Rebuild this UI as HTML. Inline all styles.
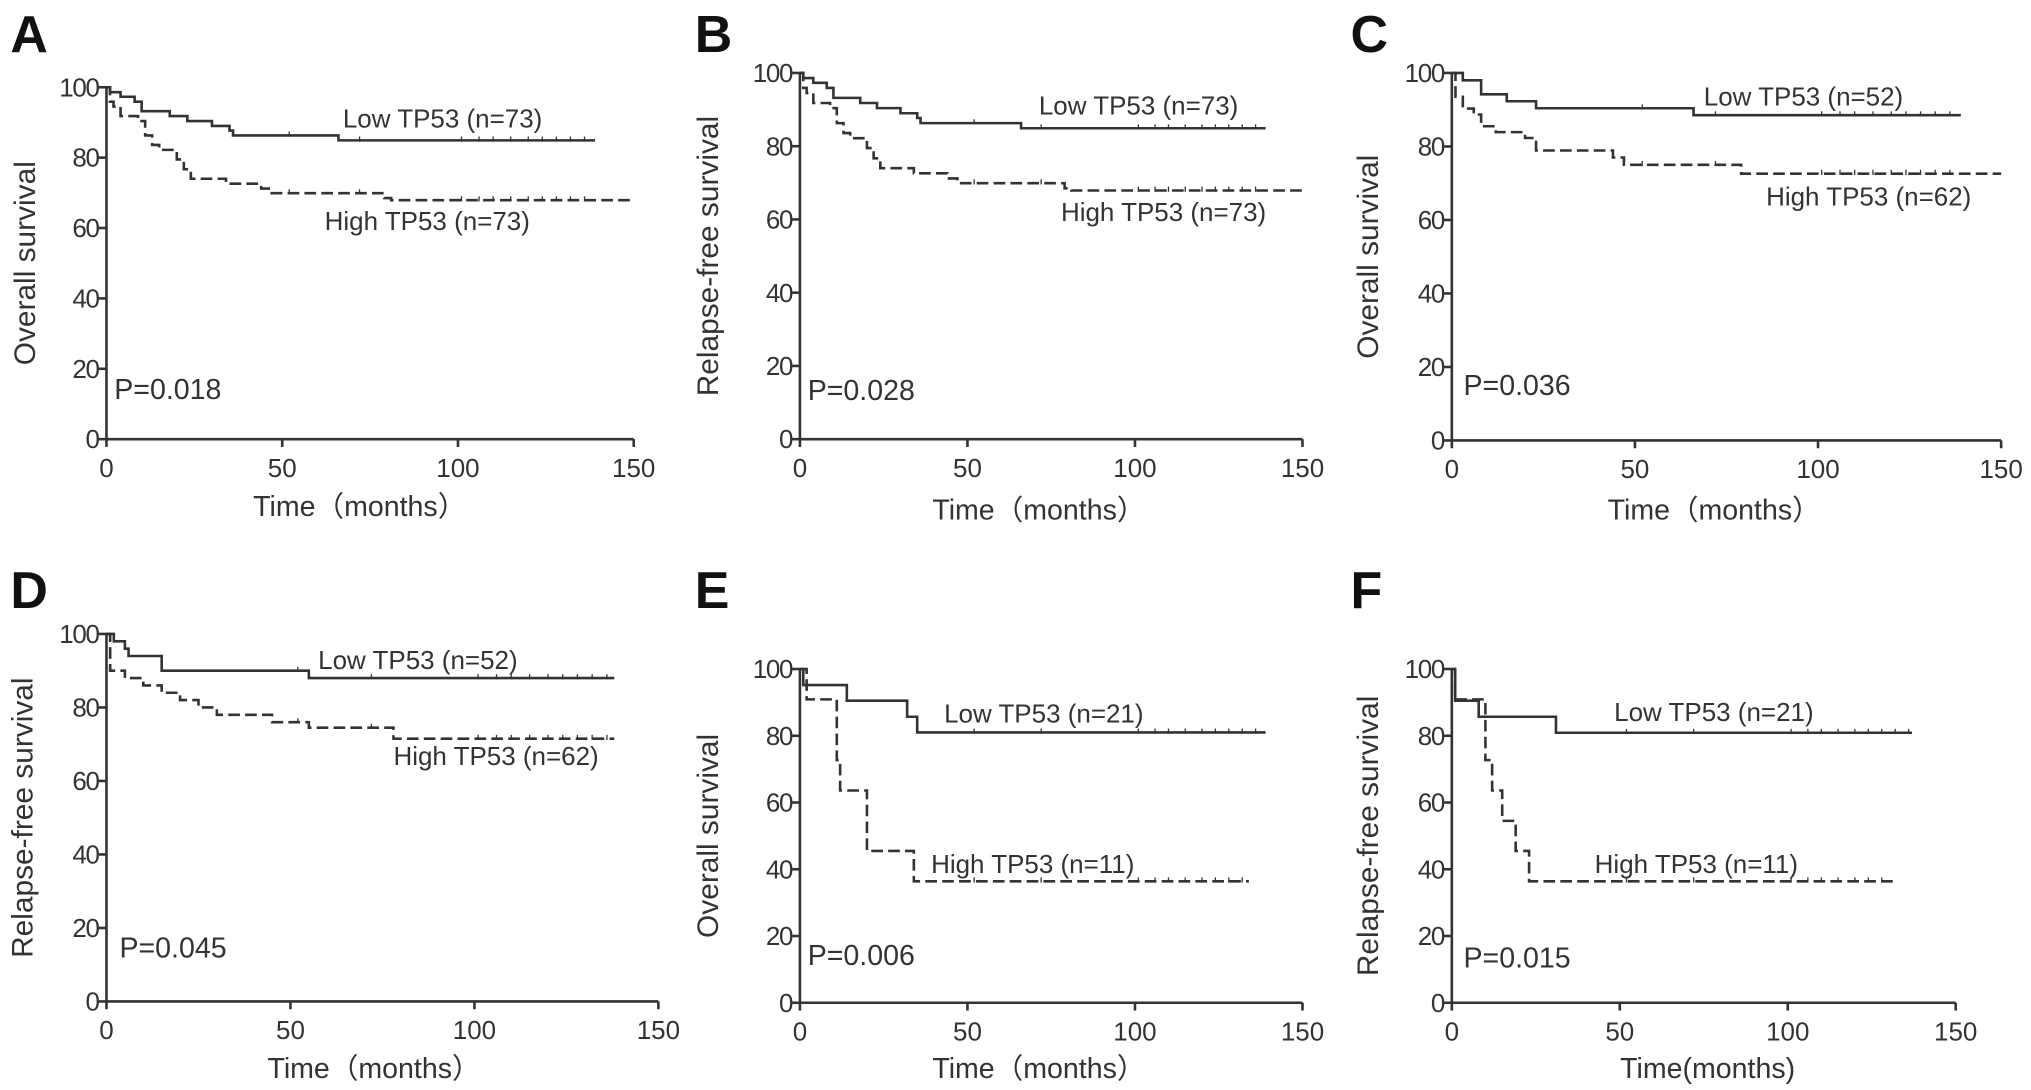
<!DOCTYPE html>
<html><head><meta charset="utf-8"><style>
html,body{margin:0;padding:0;background:#fff;}
svg{display:block;}
text{font-family:"Liberation Sans","Noto Sans CJK SC",sans-serif;fill:#333;}
</style></head><body>
<svg id="fig" width="2031" height="1090" viewBox="0 0 1564 839" xmlns="http://www.w3.org/2000/svg"></svg>
<script>
// ---- data (time in months, survival %) ----
const aLow=[[0,100],[1,98.6],[4,97.3],[8,95.9],[10,93.2],[18,91.8],[23,90.4],[30,89.0],[35,87.7],[36,86.3],[66,84.9]];
const aHigh=[[0,100],[1,95.9],[2,94.5],[4,91.8],[9,90.4],[11,86.3],[13,83.6],[15,82.2],[20,79.5],[22,76.7],[24,74.0],[34,72.6],[44,71.2],[47,69.9],[79,68.5],[81,67.9]];
const cLow=[[0,100],[3,98],[8,94.2],[15,92.3],[23,90.4],[66,88.5]];
const cHigh=[[0,100],[1,93.5],[3,90.3],[6,88.7],[8,85.5],[12,83.9],[20,82.3],[23,78.9],[44,77],[47,75],[79,72.6]];
const dLow=[[0,100],[2,98],[5,96],[6,94],[15,90],[55,88]];
const dHigh=[[0,100],[1,90],[5,88],[10,86],[15,84],[20,82],[25,80],[30,78],[45,76],[55,74.5],[78,71.5]];
const eLow=[[0,100],[1,95.2],[14,90.5],[32,85.7],[35,81]];
const eHigh=[[0,100],[2,90.9],[11,72.7],[12,63.6],[20,45.5],[34,36.4]];
const fLow=[[0,100],[1,90.5],[8,85.7],[31,80.9]];
const fHigh=[[0,100],[1,90.9],[10,72.7],[12,63.6],[15,54.5],[19,45.5],[23,36.4]];
const censorTimes=[52,72,101,106,110,115,120,124,128,132,136];
const xTicks=[0,50,100,150];
const yTicks=[0,20,40,60,80,100];

const panels=[
 {id:'a',L:'A',lx:8,ly:40,ox:82,oy:338,x150:488,y100:67,yt:'Overall survival',ytx:27,xt:'Time（months）',xtx:277,xty:397,
  low:aLow,lowEnd:139,high:aHigh,highEnd:150,lowLab:'Low TP53 (n=73)',lowXY:[264,98],highLab:'High TP53 (n=73)',highXY:[250,177],p:'P=0.018',pXY:[88,307]},
 {id:'b',L:'B',lx:535,ly:40,ox:616,oy:338,x150:1003,y100:56,yt:'Relapse-free survival',ytx:553,xt:'Time（months）',xtx:800,xty:400,
  low:aLow,lowEnd:139,high:aHigh,highEnd:150,lowLab:'Low TP53  (n=73)',lowXY:[800,88],highLab:'High TP53  (n=73)',highXY:[817,170],p:'P=0.028',pXY:[622,308]},
 {id:'c',L:'C',lx:1040,ly:40,ox:1118,oy:339,x150:1541,y100:56,yt:'Overall survival',ytx:1061,xt:'Time（months）',xtx:1320,xty:400,
  low:cLow,lowEnd:139,high:cHigh,highEnd:150,lowLab:'Low TP53  (n=52)',lowXY:[1312,81],highLab:'High TP53  (n=62)',highXY:[1360,158],p:'P=0.036',pXY:[1127,304]},
 {id:'d',L:'D',lx:8,ly:468,ox:82,oy:771,x150:507,y100:488,yt:'Relapse-free survival',ytx:25,xt:'Time（months）',xtx:288,xty:830,
  low:dLow,lowEnd:138,high:dHigh,highEnd:138,lowLab:'Low TP53  (n=52)',lowXY:[245,515],highLab:'High TP53  (n=62)',highXY:[303,589],p:'P=0.045',pXY:[92,737]},
 {id:'e',L:'E',lx:535,ly:468,ox:616,oy:772,x150:1003,y100:515,yt:'Overall survival',ytx:553,xt:'Time（months）',xtx:800,xty:830,
  low:eLow,lowEnd:139,high:eHigh,highEnd:134,lowLab:'Low TP53 (n=21)',lowXY:[727,556],highLab:'High TP53 (n=11)',highXY:[717,672],p:'P=0.006',pXY:[622,743]},
 {id:'f',L:'F',lx:1040,ly:468,ox:1118,oy:772,x150:1506,y100:515,yt:'Relapse-free survival',ytx:1061,xt:'Time(months)',xtx:1315,xty:830,
  low:fLow,lowEnd:137,high:fHigh,highEnd:132,lowLab:'Low TP53 (n=21)',lowXY:[1243,555],highLab:'High TP53 (n=11)',highXY:[1228,672],p:'P=0.015',pXY:[1127,745]}
];
const NS='http://www.w3.org/2000/svg';
const svg=document.getElementById('fig');
function mk(tag,attrs,parent){const e=document.createElementNS(NS,tag);for(const k in attrs)e.setAttribute(k,attrs[k]);parent.appendChild(e);return e;}
function txt(parent,x,y,s,size,anchor,extra){const t=mk('text',Object.assign({x:x,y:y,'font-size':size,'text-anchor':anchor||'start'},extra||{}),parent);t.textContent=s;return t;}
function stepPath(pts,end,X,Y){let d='M'+X(pts[0][0])+','+Y(pts[0][1]);for(let i=1;i<pts.length;i++){d+=' H'+X(pts[i][0])+' V'+Y(pts[i][1]);}d+=' H'+X(end);return d;}
function lastVal(pts,t){let v=pts[0][1];for(const p of pts){if(p[0]<=t)v=p[1];}return v;}
panels.forEach(p=>{
  const g=mk('g',{},svg);
  
  
  const X=t=>p.ox+(p.x150-p.ox)*t/150;
  const Y=v=>p.oy-(p.oy-p.y100)*v/100;
  const letter=txt(g,p.lx,p.ly,p.L,40,'start',{'font-weight':'bold',style:'fill:#111'});
  
  
  const ax=mk('path',{d:'M'+X(0)+','+Y(100)+' V'+p.oy+' H'+X(150),stroke:'#333','stroke-width':2,fill:'none'},g);
  
  
  xTicks.forEach(t=>{mk('line',{x1:X(t),x2:X(t),y1:p.oy,y2:p.oy+6,stroke:'#333','stroke-width':2},g);
    const l=txt(g,X(t),p.oy+29,String(t),20,'middle');
    
    });
  yTicks.forEach(v=>{mk('line',{x1:X(0)-6,x2:X(0),y1:Y(v),y2:Y(v),stroke:'#333','stroke-width':2},g);
    const l=txt(g,X(0)-6,Y(v)+7,String(v),20,'end',{'letter-spacing':'-1'});
    
    });
  const cy=(p.oy+p.y100)/2;
  const yt=txt(g,p.ytx,cy,p.yt,23,'middle',{transform:'rotate(-90 '+p.ytx+' '+cy+')'});
  
  
  const xt=txt(g,p.xtx,p.xty,p.xt,22,'middle');
  
  
  const lo=mk('path',{d:stepPath(p.low,p.lowEnd,X,Y),stroke:'#333','stroke-width':2,fill:'none'},g);
  
  
  const hi=mk('path',{d:stepPath(p.high,p.highEnd,X,Y),stroke:'#333','stroke-width':2,fill:'none','stroke-dasharray':'9,4'},g);
  
  
  censorTimes.forEach(t=>{
    if(t<p.lowEnd){const c=mk('line',{x1:X(t),x2:X(t),y1:Y(lastVal(p.low,t))-3,y2:Y(lastVal(p.low,t))+1,stroke:'#333','stroke-width':1},g);
      
      }
    if(t<p.highEnd){const c=mk('line',{x1:X(t),x2:X(t),y1:Y(lastVal(p.high,t))-3,y2:Y(lastVal(p.high,t))+1,stroke:'#333','stroke-width':1},g);
      
      }
  });
  const ll=txt(g,p.lowXY[0],p.lowXY[1],p.lowLab,20,'start');
  
  
  const hl=txt(g,p.highXY[0],p.highXY[1],p.highLab,20,'start');
  
  
  const pv=txt(g,p.pXY[0],p.pXY[1],p.p,22,'start');
  
  
});
</script>
</body></html>
